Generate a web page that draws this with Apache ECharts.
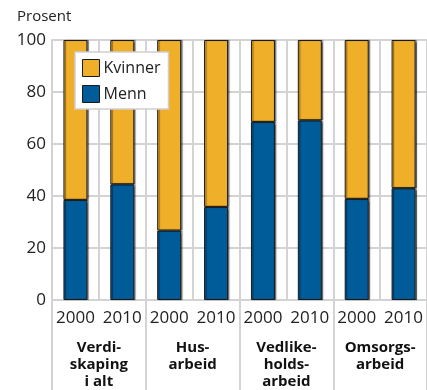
<!DOCTYPE html>
<html>
<head>
<meta charset="utf-8">
<script src="https://cdn.jsdelivr.net/npm/echarts@6/dist/echarts.min.js"></script>
<style>
  html, body { margin: 0; padding: 0; background: #fff; }
  #chart { width: 427px; height: 390px; }
</style>
</head>
<body>
<div id="chart"></div>
<script>
// Andel av arbeidstimer, menn og kvinner (prosent)
const years = ['2000', '2010', '2000', '2010', '2000', '2010', '2000', '2010'];
const groups = ['Verdi-\nskaping\ni alt', 'Hus-\narbeid', 'Vedlike-\nholds-\narbeid', 'Omsorgs-\narbeid'];
const menn = [38.5, 44.5, 26.7, 35.8, 68.5, 69.1, 38.9, 43.0];
const kvinner = menn.map(v => +(100 - v).toFixed(1));
const yTicks = [0, 20, 40, 60, 80, 100];

const gridColor = '#d3d3d3';
const font = 'Open Sans';

const chart = echarts.init(document.getElementById('chart'), null, { renderer: 'canvas' });

const barStyle = (color) => ({
  color: color,
  borderColor: '#1a1a1a',
  borderWidth: 1,
  shadowColor: 'rgba(0,0,0,0.45)',
  shadowOffsetX: 1.5,
  shadowBlur: 1
});

chart.setOption({
  animation: false,
  grid: { left: 52, top: 40, width: 377, height: 264.5 },
  graphic: [{
    type: 'text', left: 17, top: 9,
    style: { text: 'Prosent', font: '15px "' + font + '"', fill: '#222' }
  }],
  legend: {
    data: ['Kvinner', 'Menn'],
    orient: 'vertical',
    left: 75, top: 52,
    padding: [7, 8, 6, 7],
    icon: 'rect',
    itemWidth: 17, itemHeight: 17, itemGap: 8,
    itemStyle: { borderColor: '#1a1a1a', borderWidth: 1, shadowBlur: 0, shadowOffsetX: 0, shadowColor: 'transparent' },
    backgroundColor: '#fff',
    borderColor: '#cfcfcf', borderWidth: 1.5,
    textStyle: { fontFamily: font, fontSize: 16, color: '#222', padding: [0, 0, 0, -1] }
  },
  xAxis: [{
    type: 'category',
    data: years,
    position: 'bottom',
    axisLine: { show: true, lineStyle: { color: gridColor, width: 2 } },
    axisTick: { show: false },
    splitLine: { show: true, interval: 0, lineStyle: { color: gridColor, width: 2 } },
    axisLabel: { interval: 0, margin: 10, fontFamily: font, fontSize: 17, color: '#222' }
  }, {
    type: 'category',
    data: groups,
    position: 'bottom',
    axisLine: { show: false },
    axisTick: { show: true, interval: 0, length: 90, lineStyle: { color: gridColor, width: 2 } },
    axisLabel: {
      interval: 0, margin: 39, fontFamily: font, fontSize: 15, fontWeight: 'bold',
      color: '#111', lineHeight: 17, verticalAlign: 'top'
    }
  }],
  yAxis: {
    type: 'value',
    min: yTicks[0], max: yTicks[yTicks.length - 1], interval: 20,
    axisLine: { show: true, lineStyle: { color: gridColor, width: 2 } },
    axisTick: { show: false },
    splitLine: { show: true, lineStyle: { color: gridColor, width: 2 } },
    axisLabel: { margin: 6, fontFamily: font, fontSize: 17, color: '#222' }
  },
  series: [{
    name: 'Menn', type: 'bar', stack: 'total', barWidth: 24,
    data: menn, itemStyle: barStyle('#005b99')
  }, {
    name: 'Kvinner', type: 'bar', stack: 'total', barWidth: 24,
    data: kvinner, itemStyle: barStyle('#efaf28')
  }]
});
</script>
</body>
</html>
